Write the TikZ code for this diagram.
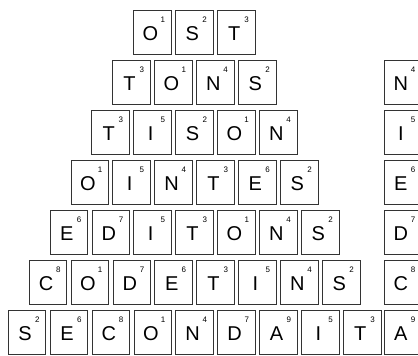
\documentclass[tikz,border=0pt]{standalone}
\usepackage{fontspec}
\setmainfont{Liberation Sans}

\begin{document}
\begin{tikzpicture}[x=1pt, y=-1pt,
    tile/.style={draw=black!80, line width=0.9pt, minimum width=37.6pt, minimum height=43.6pt,
                 inner sep=0pt, text height=16.8pt, text depth=0pt,
                 execute at begin node={\kern-4pt},
                 font=\fontsize{20}{20}\selectfont, label={[num]north east:#1}},
    num/.style={anchor=center, label distance=0pt, xshift=-9pt, yshift=-9.5pt,
                text height=, text depth=, execute at begin node={},
                font=\fontsize{8}{8}\selectfont}]
  \useasboundingbox (0,0) rectangle (418,356);
  \clip (0,0) rectangle (418,356);
  % top of the pyramid
  \node[tile=1] (r0c0) at (152.5,32.5) {O};  \node[tile=2] (r0c1) at (194.4,32.5) {S};
  \node[tile=3] (r0c2) at (236.3,32.5) {T};
  % second row
  \node[tile=3] (r1c0) at (131.6,82.5) {T};  \node[tile=1] (r1c1) at (173.5,82.5) {O};
  \node[tile=4] (r1c2) at (215.4,82.5) {N};  \node[tile=2] (r1c3) at (257.3,82.5) {S};
  % third row
  \node[tile=3] (r2c0) at (110.7,132.5) {T}; \node[tile=5] (r2c1) at (152.6,132.5) {I};
  \node[tile=2] (r2c2) at (194.5,132.5) {S}; \node[tile=1] (r2c3) at (236.4,132.5) {O};
  \node[tile=4] (r2c4) at (278.3,132.5) {N};
  % fourth row
  \node[tile=1] (r3c0) at (89.8,182.5) {O};  \node[tile=5] (r3c1) at (131.7,182.5) {I};
  \node[tile=4] (r3c2) at (173.6,182.5) {N}; \node[tile=3] (r3c3) at (215.5,182.5) {T};
  \node[tile=6] (r3c4) at (257.4,182.5) {E}; \node[tile=2] (r3c5) at (299.3,182.5) {S};
  % fifth row
  \node[tile=6] (r4c0) at (68.9,232.5) {E};  \node[tile=7] (r4c1) at (110.8,232.5) {D};
  \node[tile=5] (r4c2) at (152.7,232.5) {I}; \node[tile=3] (r4c3) at (194.6,232.5) {T};
  \node[tile=1] (r4c4) at (236.5,232.5) {O}; \node[tile=4] (r4c5) at (278.4,232.5) {N};
  \node[tile=2] (r4c6) at (320.3,232.5) {S};
  % sixth row
  \node[tile=8] (r5c0) at (48.0,282.5) {C};  \node[tile=1] (r5c1) at (89.9,282.5) {O};
  \node[tile=7] (r5c2) at (131.8,282.5) {D}; \node[tile=6] (r5c3) at (173.7,282.5) {E};
  \node[tile=3] (r5c4) at (215.6,282.5) {T}; \node[tile=5] (r5c5) at (257.5,282.5) {I};
  \node[tile=4] (r5c6) at (299.4,282.5) {N}; \node[tile=2] (r5c7) at (341.3,282.5) {S};
  % bottom row
  \node[tile=2] (r6c0) at (27.1,332.5) {S};  \node[tile=6] (r6c1) at (69.0,332.5) {E};
  \node[tile=8] (r6c2) at (110.9,332.5) {C}; \node[tile=1] (r6c3) at (152.8,332.5) {O};
  \node[tile=4] (r6c4) at (194.7,332.5) {N}; \node[tile=7] (r6c5) at (236.6,332.5) {D};
  \node[tile=9] (r6c6) at (278.5,332.5) {A}; \node[tile=5] (r6c7) at (320.4,332.5) {I};
  \node[tile=3] (r6c8) at (362.3,332.5) {T};
  % column on the right
  \node[tile=4] (k1) at (402.8,82.5) {N};   \node[tile=5] (k2) at (402.8,132.5) {I};
  \node[tile=6] (k3) at (402.8,182.5) {E};  \node[tile=7] (k4) at (402.8,232.5) {D};
  \node[tile=8] (k5) at (402.8,282.5) {C};  \node[tile=9] (k6) at (402.8,332.5) {A};
\end{tikzpicture}
\end{document}
